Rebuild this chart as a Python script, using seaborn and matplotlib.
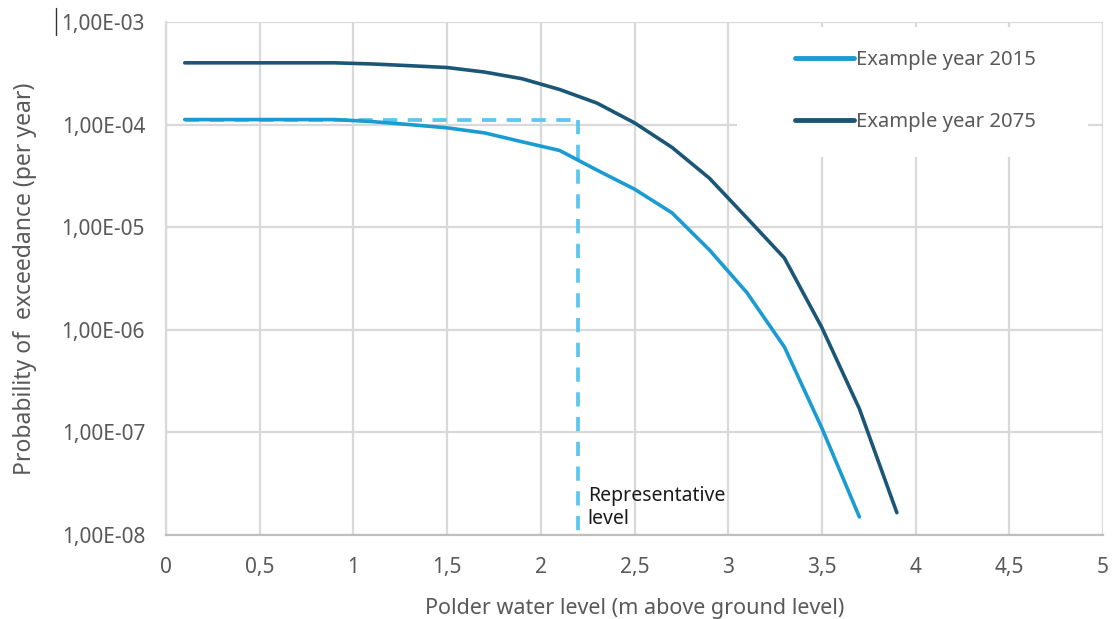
import numpy as np
import pandas as pd
import matplotlib
matplotlib.use("Agg")
import matplotlib.pyplot as plt
from matplotlib.lines import Line2D
from matplotlib.patches import Rectangle
from matplotlib.ticker import FuncFormatter, FixedLocator
import seaborn as sns

# Polder water level (m above ground level)
levels_2015 = [0.1, 0.3, 0.5, 0.7, 0.9, 1.1, 1.3, 1.5, 1.7, 1.9, 2.1, 2.3, 2.5,
               2.7, 2.9, 3.1, 3.3, 3.5, 3.7]
levels_2075 = [0.1, 0.3, 0.5, 0.7, 0.9, 1.1, 1.3, 1.5, 1.7, 1.9, 2.1, 2.3, 2.5,
               2.7, 2.9, 3.1, 3.3, 3.5, 3.7, 3.9]

# Probability of exceedance (per year)
prob_2015 = [1.12e-4, 1.12e-4, 1.12e-4, 1.12e-4, 1.12e-4, 1.07e-4, 1.0e-4, 9.3e-5,
             8.3e-5, 6.8e-5, 5.6e-5, 3.6e-5, 2.35e-5, 1.38e-5, 6.0e-6, 2.3e-6,
             6.8e-7, 1.1e-7, 1.5e-8]
prob_2075 = [4.0e-4, 4.0e-4, 4.0e-4, 4.0e-4, 4.0e-4, 3.9e-4, 3.75e-4, 3.6e-4,
             3.25e-4, 2.8e-4, 2.2e-4, 1.62e-4, 1.04e-4, 6.0e-5, 3.0e-5, 1.23e-5,
             5.0e-6, 1.05e-6, 1.7e-7, 1.65e-8]

series_names = ["Example year 2015", "Example year 2075"]

# Representative level
rep_level = 2.2
rep_prob = 1.12e-4
rep_start = 0.1

x_ticks = [0, 0.5, 1, 1.5, 2, 2.5, 3, 3.5, 4, 4.5, 5]
y_ticks = [1e-8, 1e-7, 1e-6, 1e-5, 1e-4, 1e-3]

df = pd.concat([
    pd.DataFrame({"level": levels_2015, "prob": prob_2015, "series": series_names[0]}),
    pd.DataFrame({"level": levels_2075, "prob": prob_2075, "series": series_names[1]}),
])

sns.set_theme(style="white")
plt.rcParams["font.family"] = ["Noto Sans", "DejaVu Sans"]

c2015 = "#1a9cd2"
c2075 = "#1c5676"
c_rep = "#5bc6f0"
grid_c = "#d9d9d9"
text_c = "#595959"

fig = plt.figure(figsize=(11.13, 6.19), dpi=100)
ax = fig.add_axes([166 / 1113, 1 - 535 / 619, (1103 - 166) / 1113, (535 - 22) / 619])

ax.set_yscale("log")
ax.set_xlim(0, 5)
ax.set_ylim(1e-8, 1e-3)

# dashed guide for the representative level
ax.plot([rep_start, rep_level], [rep_prob, rep_prob], color=c_rep, lw=2.7,
        dashes=(3.8, 2.8), zorder=2)
ax.plot([rep_level, rep_level], [rep_prob, 1e-8], color=c_rep, lw=2.7,
        dashes=(3.8, 2.8), zorder=2)

sns.lineplot(data=df, x="level", y="prob", hue="series",
             palette=[c2015, c2075], lw=2.6, sort=False, estimator=None,
             legend=False, ax=ax, zorder=3)

ax.xaxis.set_major_locator(FixedLocator(x_ticks))
ax.yaxis.set_major_locator(FixedLocator(y_ticks))
ax.yaxis.set_minor_locator(FixedLocator([]))
ax.xaxis.set_major_formatter(FuncFormatter(lambda v, p: f"{v:g}".replace(".", ",")))
ax.yaxis.set_major_formatter(FuncFormatter(lambda v, p: f"{v:.2E}".replace(".", ",")))

ax.grid(True, which="major", color=grid_c, lw=1.6, zorder=0)
ax.set_axisbelow(True)
for side in ["top", "right"]:
    ax.spines[side].set_visible(False)
ax.spines["left"].set_color(grid_c)
ax.spines["left"].set_linewidth(1.6)
ax.spines["bottom"].set_color("#bfbfbf")
ax.spines["bottom"].set_linewidth(1.6)

ax.tick_params(axis="both", length=0, labelsize=15, labelcolor=text_c)
ax.tick_params(axis="y", pad=15)
ax.tick_params(axis="x", pad=16)

ax.set_xlabel("Polder water level (m above ground level)", fontsize=15.5,
              color=text_c, labelpad=14)
ax.set_ylabel("Probability of  exceedance (per year)", fontsize=16.5,
              color=text_c, labelpad=18)

# white panel behind the legend
ax.add_patch(Rectangle((0.609, 0.737), 0.375, 0.253, transform=ax.transAxes,
                       facecolor="white", edgecolor="none", zorder=1.5))
handles = [Line2D([], [], color=c2015, lw=3.5, solid_capstyle="round"),
           Line2D([], [], color=c2075, lw=3.5, solid_capstyle="round")]
ax.legend(handles, series_names, loc="center left",
          bbox_to_anchor=((795 - 166) / 937, (535 - 91) / 513),
          frameon=False, fontsize=14.6, labelcolor=text_c, handlelength=2.9,
          handletextpad=0.1, labelspacing=2.05, borderpad=0, borderaxespad=0)

ax.text(rep_level + 0.05, 1.85e-8, "Representative\nlevel", fontsize=14,
        color="#1a1a1a", ha="left", va="center", linespacing=1.15, zorder=4)

# text cursor mark beside the top label
fig.add_artist(Line2D([56 / 1113, 56 / 1113], [1 - 8 / 619, 1 - 35 / 619],
                      color="#333333", lw=1))

fig.savefig("out.png", dpi=100)
